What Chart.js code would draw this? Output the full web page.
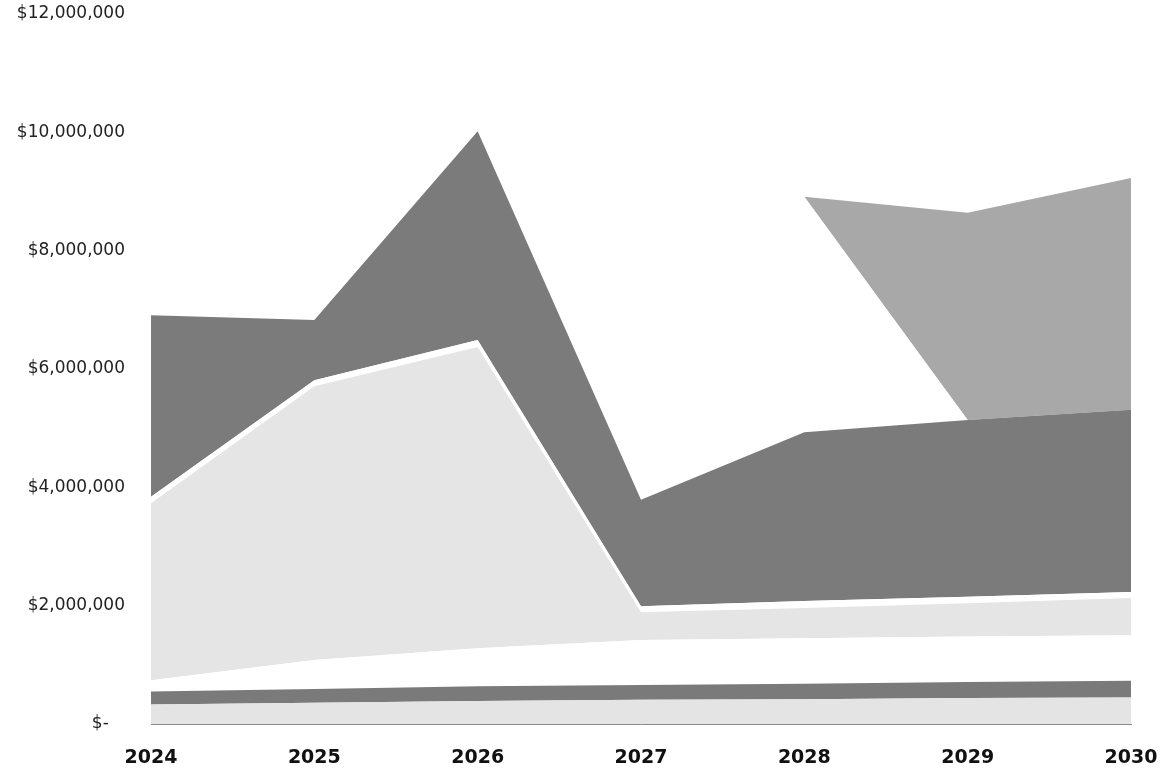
<!DOCTYPE html>
<html>
<head>
<meta charset="utf-8">
<script src="https://cdn.jsdelivr.net/npm/chart.js@4"></script>
<style>
  html, body { margin: 0; padding: 0; background: #fff; }
  #wrap { width: 1164px; height: 771px; position: relative; }
</style>
</head>
<body>
<div id="wrap"><canvas id="c"></canvas></div>
<script>
// Categories
const years = ['2024', '2025', '2026', '2027', '2028', '2029', '2030'];

// Stacked series values (USD), bottom to top
const baseLight   = [330000, 360000, 390000, 410000, 420000, 440000, 450000];
const thinDark    = [220000, 230000, 250000, 250000, 260000, 270000, 280000];
const gapLow      = [190000, 490000, 640000, 760000, 770000, 770000, 770000];
const lightArea   = [2990000, 4630000, 5090000, 470000, 510000, 560000, 630000];
const gapMid      = [110000, 100000, 120000, 100000, 120000, 110000, 100000];
const darkArea    = [3070000, 1020000, 3530000, 1800000, 2850000, 2990000, 3080000];
const gapHigh     = [0, 0, 0, 0, 3980000, 0, 0];
const mediumArea  = [0, 0, 0, 0, 0, 3500000, 3920000];

// Y tick values
const yTicks = [0, 2000000, 4000000, 6000000, 8000000, 10000000, 12000000];

function fmt(v) {
  if (v === 0) return '$-   ';
  return '$' + v.toLocaleString('en-US');
}

const series = [
  { label: 'A', data: baseLight,  color: '#e4e4e4' },
  { label: 'B', data: thinDark,   color: '#7a7a7a' },
  { label: 'C', data: gapLow,     color: '#ffffff' },
  { label: 'D', data: lightArea,  color: '#e5e5e5' },
  { label: 'E', data: gapMid,     color: '#ffffff' },
  { label: 'F', data: darkArea,   color: '#7b7b7b' },
  { label: 'G', data: gapHigh,    color: '#ffffff' },
  { label: 'H', data: mediumArea, color: '#a8a8a8' }
];

const datasets = series.map((s, i) => ({
  label: s.label,
  data: s.data,
  backgroundColor: s.color,
  borderColor: s.color,
  borderWidth: 0,
  pointRadius: 0,
  pointHoverRadius: 0,
  tension: 0,
  fill: i === 0 ? 'origin' : '-1'
}));

new Chart(document.getElementById('c'), {
  type: 'line',
  data: { labels: years, datasets },
  options: {
    responsive: true,
    maintainAspectRatio: false,
    animation: false,
    layout: { padding: { top: 14, right: 33, left: 0, bottom: 0 } },
    plugins: { legend: { display: false }, tooltip: { enabled: false } },
    scales: {
      x: {
        offset: false,
        grid: { display: false, drawTicks: false },
        border: { display: true, color: '#8a8a8a', width: 1 },
        ticks: {
          color: '#111',
          font: { family: 'DejaVu Sans', size: 19, weight: 'bold' },
          padding: 23,
          maxRotation: 0,
          autoSkip: false
        },
        afterFit(scale) {
          scale.height = 47;
          scale.paddingLeft = 0;
          scale.paddingRight = 0;
        }
      },
      y: {
        stacked: true,
        min: 0,
        max: 12000000,
        afterBuildTicks(scale) { scale.ticks = yTicks.map(v => ({ value: v })); },
        grid: { display: false, drawTicks: false },
        border: { display: false },
        ticks: {
          color: '#222',
          font: { family: 'DejaVu Sans', size: 17 },
          padding: 26,
          callback: (v) => fmt(v)
        },
        afterFit(scale) {
          scale.width = 151;
          scale.paddingTop = 0;
          scale.paddingBottom = 0;
        }
      }
    }
  }
});
</script>
</body>
</html>
